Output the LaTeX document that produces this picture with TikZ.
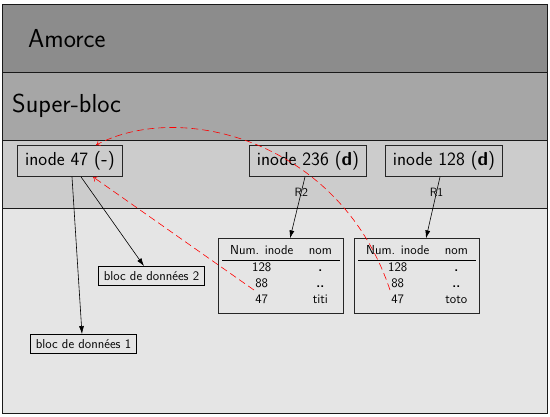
\documentclass[tikz,border=0pt]{standalone}
\usepackage{fontspec}
\usetikzlibrary{arrows.meta,calc}
\begin{document}
\begin{tikzpicture}[x=1pt,y=-1pt,
 inodebox/.style={draw=black!85, line width=0.8pt, minimum height=31pt, inner xsep=7.5pt, font=\sffamily\fontsize{18.8}{22}\selectfont},
 blocbox/.style={draw=black, line width=0.8pt, minimum height=19pt, inner xsep=5pt, inner ysep=0pt, fill=black!10, font=\sffamily\fontsize{13}{16}\selectfont},
 tablebox/.style={draw=black!85, line width=0.8pt, fill=black!10, inner xsep=4pt, inner ysep=5pt, font=\sffamily\fontsize{13}{16}\selectfont},
 ptr/.style={-{Latex[length=8pt,width=5pt]}, line width=0.6pt},
 backptr/.style={red, dash pattern=on 7pt off 4pt, line width=0.6pt, -{To[length=4pt,width=6pt]}},
 lbl/.style={font=\sffamily\fontsize{12}{14}\selectfont, inner sep=0pt},
 bandtitle/.style={anchor=base west, inner sep=0pt, font=\sffamily\fontsize{26}{30}\selectfont}
]
\useasboundingbox (0,0) rectangle (550,417);
% bands
\fill[black!45] (2,4) rectangle (547,72);
\fill[black!35] (2,72) rectangle (547,140);
\fill[black!20] (2,140) rectangle (547,208);
\fill[black!10] (2,208) rectangle (547,413);
\draw[line width=0.8pt, black!90] (2,72) -- (547,72);
\draw[line width=0.8pt, black!90] (2,140) -- (547,140);
\draw[line width=0.8pt, black!90] (2,208) -- (547,208);
\draw[line width=0.8pt, black!90] (2,4) rectangle (547,413);
% titles
\node[bandtitle] (amorce) at (28,48) {Amorce};
\node[bandtitle] (super) at (12,113) {Super-bloc};
% inodes
\node[inodebox] (i47) at (70,161) {inode 47 (\textbf{-})};
\node[inodebox] (i236) at (308,161) {inode 236 (\textbf{d})};
\node[inodebox] (i128) at (444,161) {inode 128 (\textbf{d})};
% data blocks
\node[blocbox] (b2) at (151.5,276) {bloc de données 2};
\node[blocbox] (b1) at (83.5,344) {bloc de données 1};
% directory tables
\node[tablebox] (t1) at (281,276) {\setlength{\tabcolsep}{7.8pt}\begin{tabular}{cc}
Num. inode & nom\\ \hline
128 & \textbf{.}\\
88 & \textbf{..}\\
47 & titi
\end{tabular}};
\node[tablebox] (t2) at (417,276) {\setlength{\tabcolsep}{7.8pt}\begin{tabular}{cc}
Num. inode & nom\\ \hline
128 & \textbf{.}\\
88 & \textbf{..}\\
47 & toto
\end{tabular}};
% pointers
\draw[ptr] ([xshift=2pt]i47.south) -- ([xshift=-1.5pt]b1.north);
\draw[ptr] ([xshift=11pt]i47.south) -- ([xshift=-7.5pt]b2.north);
\draw[ptr] ([xshift=-3pt]i236.south) -- node[lbl, pos=0.25] {R2} ([xshift=9pt]t1.north);
\draw[ptr] ([xshift=-4pt]i128.south) -- node[lbl, pos=0.25] {R1} ([xshift=9pt]t2.north);
% back references
\coordinate (s1) at ($(t1.west)+(36,14)$);
\coordinate (s2) at ($(t2.west)+(36,14)$);
\draw[backptr] (s1) -- ([xshift=23pt]i47.south);
\draw[backptr] (s2) .. controls ($(s2)+(-50,-150)$) and ($(s2)+(-210,-190)$) .. ([xshift=26pt]i47.north);
\end{tikzpicture}
\end{document}
